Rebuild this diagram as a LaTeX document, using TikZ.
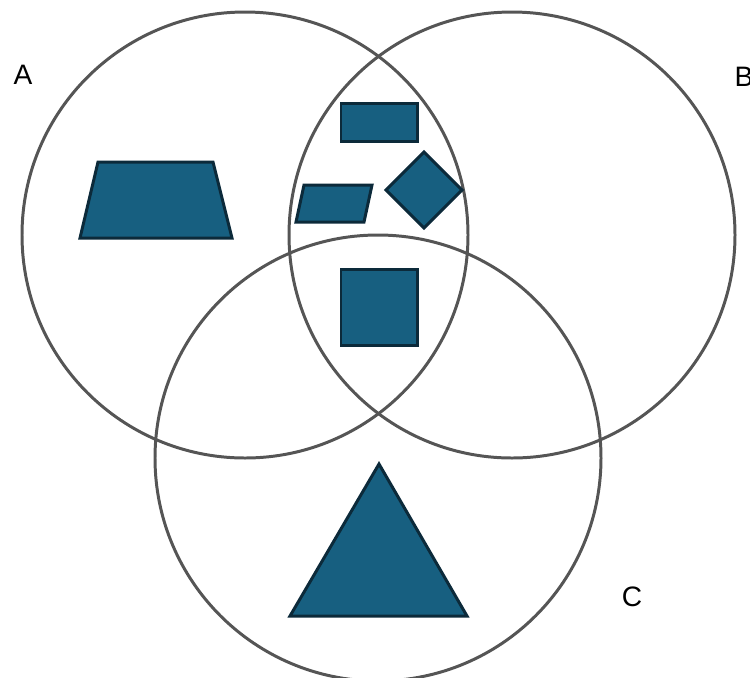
\documentclass[tikz,border=0pt]{standalone}
\usepackage{fontspec}
\setmainfont{Liberation Sans}
\usetikzlibrary{calc}
\definecolor{ringC}{RGB}{85,85,85}
\definecolor{pieceFill}{RGB}{23,95,128}
\definecolor{pieceEdge}{RGB}{12,42,58}
\tikzset{
  setring/.style  = {draw=ringC, line width=1.7pt},
  piece/.style    = {fill=pieceFill, draw=pieceEdge, line width=1.7pt,
                     line join=miter},
  setlabel/.style = {font=\fontsize{16}{19}\selectfont, inner sep=0pt}
}

\begin{document}
\begin{tikzpicture}[x=0.02cm, y=-0.02cm]
  \useasboundingbox (0,0) rectangle (750,677);

  %% ── Set centres ───────────────────────────────────────────────
  \coordinate (cA) at (245,235);
  \coordinate (cB) at (512,235);
  \coordinate (cC) at (378,458);

  %% ── Set rings ─────────────────────────────────────────────────
  \draw[setring] (cA) circle (223);
  \draw[setring] (cB) circle (223);
  \draw[setring] (cC) circle (223);

  %% ── Set labels ────────────────────────────────────────────────
  \node[setlabel] (labA) at ( 23, 75) {A};
  \node[setlabel] (labB) at (744, 77) {B};
  \node[setlabel] (labC) at (632,597) {C};

  %% ── Pieces ────────────────────────────────────────────────────
  % A only: trapezoid
  \draw[piece] (98,162) -- (213,162) -- (232,238) -- (80,238) -- cycle;
  % A and B: rectangle, parallelogram, diamond
  \draw[piece] (341,103) rectangle (417,141);
  \draw[piece] (304,185) -- (372,185) -- (364,222) -- (296,222) -- cycle;
  \draw[piece] (424,152) -- (462,190) -- (424,228) -- (386,190) -- cycle;
  % A, B and C: square
  \draw[piece] (341,269) rectangle (417,345);
  % C only: triangle
  \draw[piece] (379,464) -- (467,616) -- (290,616) -- cycle;

\end{tikzpicture}
\end{document}
